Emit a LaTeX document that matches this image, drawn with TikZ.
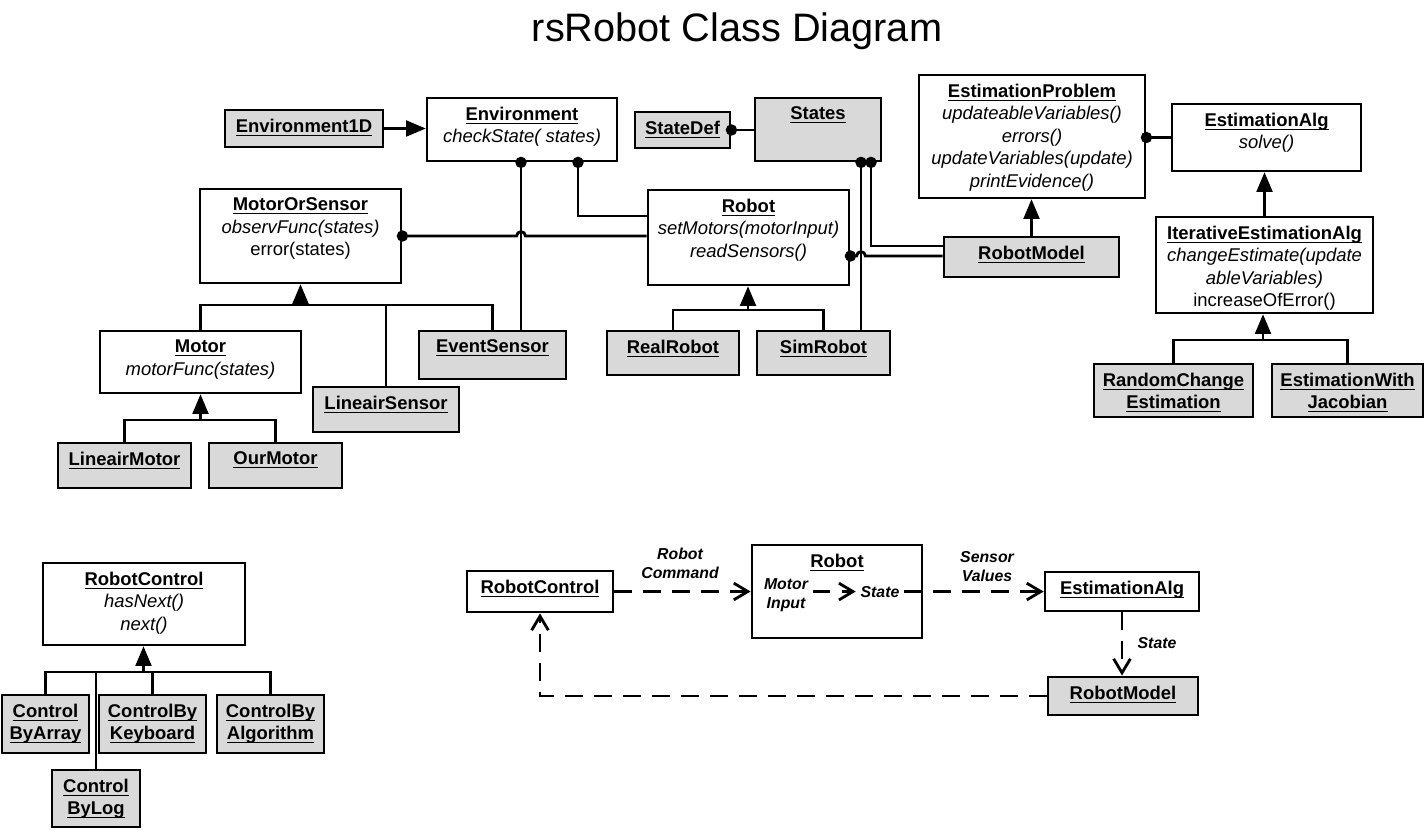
\documentclass[tikz,border=0pt]{standalone}
\usepackage{amsmath}
\usepackage{fontspec}
\setmainfont{Liberation Sans}
\usepackage{tikz}
\usetikzlibrary{positioning}
\usetikzlibrary{arrows,arrows.meta}
\usetikzlibrary{fit}

\newcommand{\cname}[1]{\underline{\smash[b]{\textbf{#1}}}}

\begin{document}
\begin{tikzpicture}[x=0.02cm,y=-0.02cm,>=triangle 45,line width=1.6pt,
  class node/.style={draw,fill=white,inner sep=0pt},
  object node/.style={class node,fill=black!15},
  head/.style={anchor=north,inner sep=0pt,yshift=-0.18cm,align=center,
    font=\fontsize{10.5}{12.8}\selectfont},
  dot/.style={{Circle[length=6.4pt]}-,shorten <=-3.2pt},
  flow/.style={-{Straight Barb[length=8pt,width=9.5pt]},dash pattern=on 10pt off 6.5pt},
  flow label/.style={inner sep=2pt,align=center,
    font=\fontsize{9}{10.8}\selectfont\bfseries\itshape}]

  \useasboundingbox (0,0) rectangle (1425,830);
  \node[anchor=base,font=\fontsize{22.6}{27}\selectfont] (0) at (737,42) {rsRobot Class Diagram};

  \node[object node,fit={(225,110) (383,147)},label={[head]north:{\cname{Environment1D}}}] (1) {};
  \node[class node,fit={(427,98) (617,161)},label={[head]north:{\cname{Environment}\\\textit{checkState( states)}}}] (2) {};
  \node[object node,fit={(635,112) (730,148)},label={[head]north:{\cname{StateDef}}}] (3) {};
  \node[object node,fit={(755,98) (881,161)},label={[head]north:{\cname{States}}}] (4) {};
  \node[class node,fit={(919,75) (1145,198)},label={[head]north:{\cname{EstimationProblem}\\\textit{updateableVariables()}\\\textit{errors()}\\\textit{updateVariables(update)}\\\textit{printEvidence()}}}] (5) {};
  \node[class node,fit={(1172,104) (1361,171)},label={[head]north:{\cname{EstimationAlg}\\\textit{solve()}}}] (6) {};
  \node[class node,fit={(200,189) (401,283)},label={[head]north:{\cname{MotorOrSensor}\\\textit{observFunc(states)}\\error(states)}}] (7) {};
  \node[class node,fit={(648,190) (849,285)},label={[head]north:{\cname{Robot}\\\textit{setMotors(motorInput)}\\\textit{readSensors()}}}] (8) {};
  \node[object node,fit={(944,237) (1119,277)},label={[head]north:{\cname{RobotModel}}}] (9) {};
  \node[class node,fit={(1156,217) (1373,313)},label={[head]north:{\cname{IterativeEstimationAlg}\\\textit{changeEstimate(update}\\\textit{ableVariables)}\\increaseOfError()}}] (10) {};
  \node[class node,fit={(100,331) (301,393)},label={[head]north:{\cname{Motor}\\\textit{motorFunc(states)}}}] (11) {};
  \node[object node,fit={(313,387) (459,432)},label={[head]north:{\cname{LineairSensor}}}] (12) {};
  \node[object node,fit={(419,331) (566,379)},label={[head]north:{\cname{EventSensor}}}] (13) {};
  \node[object node,fit={(607,331) (739,375)},label={[head]north:{\cname{RealRobot}}}] (14) {};
  \node[object node,fit={(757,331) (890,375)},label={[head]north:{\cname{SimRobot}}}] (15) {};
  \node[object node,fit={(1094,364) (1253,417)},label={[head]north:{\cname{RandomChange}\\\cname{Estimation}}}] (16) {};
  \node[object node,fit={(1272,364) (1423,417)},label={[head]north:{\cname{EstimationWith}\\\cname{Jacobian}}}] (17) {};
  \node[object node,fit={(58,443) (191,488)},label={[head]north:{\cname{LineairMotor}}}] (18) {};
  \node[object node,fit={(209,443) (342,488)},label={[head]north:{\cname{OurMotor}}}] (19) {};

  \node[class node,fit={(43,563) (245,645)},label={[head]north:{\cname{RobotControl}\\\textit{hasNext()}\\\textit{next()}}}] (20) {};
  \node[object node,fit={(2,695) (89,753)},label={[head]north:{\cname{Control}\\\cname{ByArray}}}] (21) {};
  \node[object node,fit={(99,695) (206,753)},label={[head]north:{\cname{ControlBy}\\\cname{Keyboard}}}] (22) {};
  \node[object node,fit={(217,695) (324,753)},label={[head]north:{\cname{ControlBy}\\\cname{Algorithm}}}] (23) {};
  \node[object node,fit={(52,770) (140,827)},label={[head]north:{\cname{Control}\\\cname{ByLog}}}] (24) {};

  \node[class node,fit={(467,571) (613,612)},label={[head]north:{\cname{RobotControl}}}] (25) {};
  \node[class node,fit={(752,545) (922,638)},label={[head]north:{\cname{Robot}}}] (26) {};
  \node[class node,fit={(1045,572) (1199,611)},label={[head]north:{\cname{EstimationAlg}}}] (27) {};
  \node[object node,fit={(1048,677) (1198,715)},label={[head]north:{\cname{RobotModel}}}] (28) {};
  \node[flow label] (26a) at (786,595) {Motor\\Input};
  \node[flow label,anchor=base] (26b) at (880,597) {State};
  \node[flow label] (l1) at (680,563) {Robot\\Command};
  \node[flow label] (l2) at (987,567) {Sensor\\Values};
  \node[flow label] (l3) at (1157,643) {State};

  % generalisation
  \draw[->] (1.east) -- (1.east -| 2.west);
  \draw[->] (9.north) -- (9.north |- 5.south);
  \draw[->] (10.north) -- (10.north |- 6.south);

  \coordinate (b7) at (300.5,305);
  \draw (11.north) |- (b7) -| (13.north);
  \draw (12.north) -- (12.north |- b7);
  \draw[->] (b7) -- (b7 |- 7.south);

  \coordinate (b11) at (200.5,420);
  \draw (18.north) |- (b11) -| (19.north);
  \draw[->] (b11) -- (b11 |- 11.south);

  \coordinate (b8) at (748,310);
  \draw (14.north) |- (b8) -| (15.north);
  \draw[->] (b8) -- (b8 |- 8.south);

  \coordinate (b10) at (1263,340);
  \draw (16.north) |- (b10) -| (17.north);
  \draw[->] (b10) -- (b10 |- 10.south);

  \coordinate (b20) at (143.5,672);
  \draw (21.north) |- (b20) -| (23.north);
  \draw (22.north) -- (22.north |- b20);
  \draw (24.north) -- (24.north |- b20);
  \draw[->] (b20) -- (b20 |- 20.south);

  % composition
  \coordinate (h1) at (521,236);
  \coordinate (h2) at (861,256);
  \coordinate (k1) at (578,216);
  \coordinate (k2) at (871,246);
  \draw[dot] (2.south -| h1) -- (13.north -| h1);
  \draw[dot] (2.south -| k1) |- (k1 -| 8.west);
  \draw[dot] (7.east |- h1) -- ([xshift=-2.5pt]h1) arc[start angle=180,end angle=0,radius=2.5pt] -- (h1 -| 8.west);
  \draw[dot] (3.east) -- (3.east -| 4.west);
  \draw[dot] (4.south -| h2) -- (15.north -| h2);
  \draw[dot] (4.south -| k2) |- (k2 -| 9.west);
  \draw[dot] (8.east |- h2) -- ([xshift=-2.5pt]h2) arc[start angle=180,end angle=0,radius=2.5pt] -- (h2 -| 9.west);
  \draw[dot] (5.east |- 6.west) -- (6.west);

  % data flow
  \draw[flow] (26a.east |- 26b) -- (26b.west);
  \draw[flow] (25.east) -- (25.east -| 26.west);
  \draw[flow] (26b.east) -- (26b.east -| 27.west);
  \draw[flow] (27.south) -- (27.south |- 28.north);
  \draw[flow] (28.west) -| (25.south);
\end{tikzpicture}
\end{document}
